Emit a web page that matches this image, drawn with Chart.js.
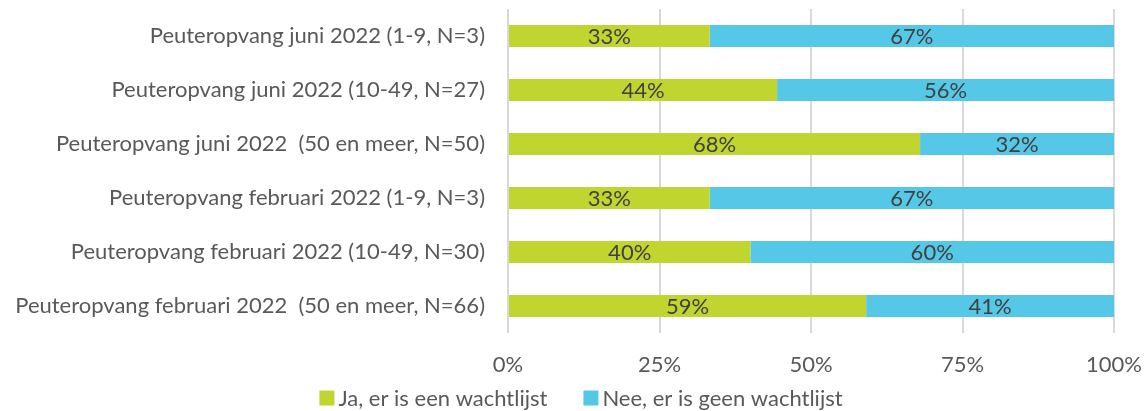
<!DOCTYPE html>
<html>
<head>
<meta charset="utf-8">
<script src="https://cdn.jsdelivr.net/npm/chart.js@4"></script>
<style>
  html, body { margin: 0; padding: 0; background: #fff; }
  #wrap { width: 1146px; height: 411px; }
</style>
</head>
<body>
<div id="wrap"><canvas id="chart" width="1146" height="411"></canvas></div>
<script>
const categories = [
  'Peuteropvang juni 2022 (1-9, N=3)',
  'Peuteropvang juni 2022 (10-49, N=27)',
  'Peuteropvang juni 2022  (50 en meer, N=50)',
  'Peuteropvang februari 2022 (1-9, N=3)',
  'Peuteropvang februari 2022 (10-49, N=30)',
  'Peuteropvang februari 2022  (50 en meer, N=66)'
]
const jaValues = [33.3, 44.4, 68, 33.3, 40, 59.1]
const neeValues = [66.7, 55.6, 32, 66.7, 60, 40.9]
const seriesNames = ['Ja, er is een wachtlijst', 'Nee, er is geen wachtlijst']
const seriesColors = ['#C0D530', '#55C8E8']
const xTicks = [0, 25, 50, 75, 100]

const FONT = 'Lato, "Open Sans", sans-serif'
const FSIZE = 22

// percentages in the middle of each bar piece
const barLabels = {
  id: 'barLabels',
  afterDatasetsDraw(chart) {
    const ctx = chart.ctx
    ctx.save()
    ctx.font = FSIZE + 'px ' + FONT
    ctx.fillStyle = '#404040'
    ctx.textAlign = 'center'
    ctx.textBaseline = 'middle'
    chart.data.datasets.forEach((ds, i) => {
      chart.getDatasetMeta(i).data.forEach((bar, j) => {
        const x = (bar.x + bar.base) / 2
        ctx.fillText(Math.round(ds.data[j]) + '%', x, bar.y + 1)
      })
    })
    ctx.restore()
  }
}

// legend drawn by hand so the gaps match the original
const bottomLegend = {
  id: 'bottomLegend',
  afterDraw(chart) {
    const ctx = chart.ctx
    ctx.save()
    ctx.font = FSIZE + 'px ' + FONT
    ctx.textBaseline = 'middle'
    const box = 15, gap = 4, spacing = 36
    const items = chart.data.datasets.map(ds => ({ text: ds.label, color: ds.backgroundColor, w: ctx.measureText(ds.label).width }))
    const total = items.reduce((s, it) => s + box + gap + it.w, 0) + spacing * (items.length - 1)
    let x = chart.width / 2 + 8 - total / 2
    const y = 398
    items.forEach(it => {
      ctx.fillStyle = it.color
      ctx.fillRect(x, y - box / 2, box, box)
      ctx.fillStyle = '#595959'
      ctx.fillText(it.text, x + box + gap, y + 1)
      x += box + gap + it.w + spacing
    })
    ctx.restore()
  }
}

new Chart(document.getElementById('chart'), {
  type: 'bar',
  data: {
    labels: categories,
    datasets: seriesNames.map((name, i) => ({
      label: name,
      data: i === 0 ? jaValues : neeValues,
      backgroundColor: seriesColors[i],
      barPercentage: 0.41,
      categoryPercentage: 1
    }))
  },
  options: {
    indexAxis: 'y',
    responsive: false,
    animation: false,
    layout: { padding: { top: 9, right: 32, bottom: 28, left: 0 } },
    plugins: {
      tooltip: { enabled: false },
      legend: { display: false }
    },
    scales: {
      x: {
        stacked: true,
        min: 0,
        max: 100,
        afterBuildTicks(scale) {
          scale.ticks = xTicks.map(v => ({ value: v }))
        },
        afterFit(scale) {
          scale.height = 50
          scale.paddingLeft = 0
          scale.paddingRight = 0
        },
        ticks: {
          callback: v => v + '%',
          font: { family: FONT, size: FSIZE },
          color: '#595959',
          padding: 19,
          maxRotation: 0
        },
        grid: { color: '#D9D9D9', lineWidth: 2, drawTicks: false },
        border: { display: false }
      },
      y: {
        stacked: true,
        afterFit(scale) {
          scale.width = 508
          scale.paddingTop = 0
          scale.paddingBottom = 0
        },
        ticks: {
          font: { family: FONT, size: FSIZE },
          color: '#595959',
          padding: 23
        },
        grid: { display: false, drawTicks: false },
        border: { display: false }
      }
    }
  },
  plugins: [barLabels, bottomLegend]
})
</script>
</body>
</html>
